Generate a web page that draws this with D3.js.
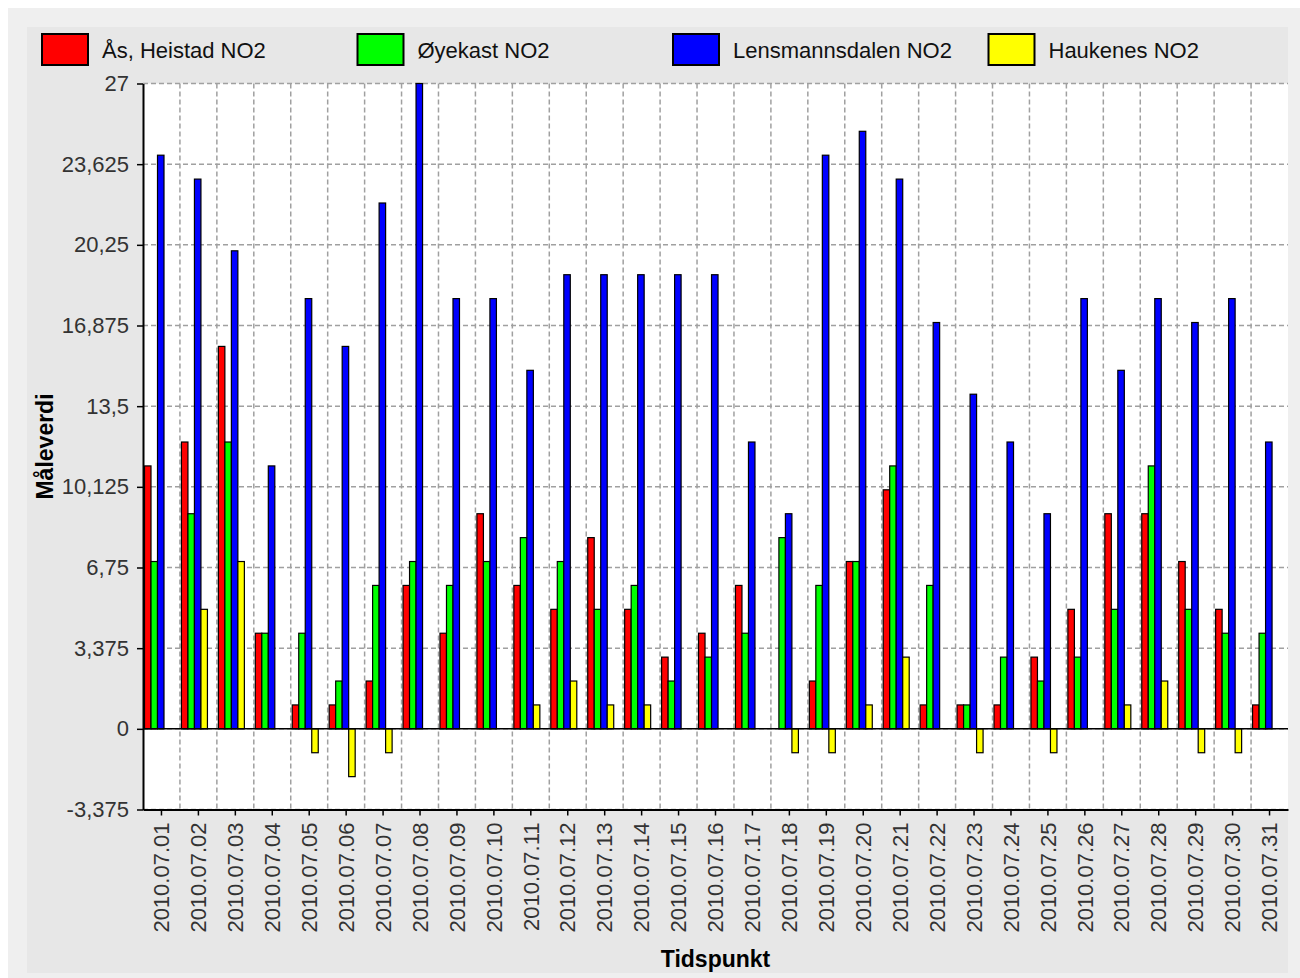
<!DOCTYPE html>
<html>
<head>
<meta charset="utf-8">
<script src="https://cdn.jsdelivr.net/npm/d3@7"></script>
<style>
  body { margin: 0; background: #fff; }
  svg { display: block; font-family: "Liberation Sans", Arial, sans-serif; }
</style>
</head>
<body>
<svg></svg>
<script>
// chart data
let dates = [];
for (let d = 1; d <= 31; d++) dates.push('2010.07.' + String(d).padStart(2, '0'));

let seriesNames = ['Ås, Heistad NO2', 'Øyekast NO2', 'Lensmannsdalen NO2', 'Haukenes NO2'];
let seriesColors = ['#ff0000', '#00ff00', '#0000ff', '#ffff00'];

let heistad   = [11, 12, 16, 4, 1, 1, 2, 6, 4, 9, 6, 5, 8, 5, 3, 4, 6, 0, 2, 7, 10, 1, 1, 1, 3, 5, 9, 9, 7, 5, 1];
let oyekast   = [7, 9, 12, 4, 4, 2, 6, 7, 6, 7, 8, 7, 5, 6, 2, 3, 4, 8, 6, 7, 11, 6, 1, 3, 2, 3, 5, 11, 5, 4, 4];
let lensmann  = [24, 23, 20, 11, 18, 16, 22, 27, 18, 18, 15, 19, 19, 19, 19, 19, 12, 9, 24, 25, 23, 17, 14, 12, 9, 18, 15, 18, 17, 18, 12];
let haukenes  = [0, 5, 7, 0, -1, -2, -1, 0, 0, 0, 1, 2, 1, 1, 0, 0, 0, -1, -1, 1, 3, 0, -1, 0, -1, 0, 1, 2, -1, -1, 0];

let yTicks = [-3.375, 0, 3.375, 6.75, 10.125, 13.5, 16.875, 20.25, 23.625, 27];

let series = [heistad, oyekast, lensmann, haukenes];

// canvas
let width = 1300;
let height = 978;
let plot = { left: 143, right: 1288, top: 83.5, bottom: 809.5 };

let svg = d3.select('svg')
    .attr('width', width)
    .attr('height', height);

// background panels
svg.append('rect').attr('x', 8).attr('y', 8).attr('width', width - 8).attr('height', height - 8).attr('fill', '#efefef');
svg.append('rect').attr('x', 27).attr('y', 27).attr('width', 1261).attr('height', 946).attr('fill', '#e7e7e7');
svg.append('rect')
    .attr('x', plot.left).attr('y', plot.top)
    .attr('width', plot.right - plot.left).attr('height', plot.bottom - plot.top)
    .attr('fill', '#fff');

// scales
let xScale = d3.scaleBand()
    .domain(dates)
    .range([plot.left, plot.right]);

let yScale = d3.scaleLinear()
    .domain([yTicks[0], yTicks[yTicks.length - 1]])
    .range([plot.bottom, plot.top]);

let fmt = v => String(v).replace('.', ',');

// gridlines
let grid = svg.append('g').attr('stroke', '#a0a0a0').attr('stroke-width', 1.5).attr('stroke-dasharray', '5,3');
grid.selectAll('.hg')
    .data(yTicks)
    .enter()
    .append('line')
    .attr('x1', plot.left).attr('x2', plot.right)
    .attr('y1', d => yScale(d)).attr('y2', d => yScale(d));
grid.selectAll('.vg')
    .data(dates.slice(1))
    .enter()
    .append('line')
    .attr('x1', d => xScale(d)).attr('x2', d => xScale(d))
    .attr('y1', plot.top).attr('y2', plot.bottom);

// bars
let barW = 6.5;
let bars = svg.append('g');
series.forEach(function(values, s) {
    bars.selectAll('.s' + s)
        .data(values)
        .enter()
        .append('rect')
        .attr('x', (v, i) => xScale(dates[i]) + 1.5 + s * barW)
        .attr('y', v => yScale(Math.max(0, v)))
        .attr('width', barW)
        .attr('height', v => Math.abs(yScale(v) - yScale(0)))
        .attr('fill', seriesColors[s])
        .attr('stroke', '#000')
        .attr('stroke-width', 1.2);
});

// zero line
svg.append('line')
    .attr('x1', plot.left).attr('x2', plot.right)
    .attr('y1', yScale(0)).attr('y2', yScale(0))
    .attr('stroke', '#000').attr('stroke-width', 1.5);

// y axis
let yAxis = d3.axisLeft(yScale).tickValues(yTicks).tickFormat(fmt).tickSize(6).tickSizeOuter(0).tickPadding(8);
let yG = svg.append('g')
    .attr('transform', `translate(${plot.left}, 0)`)
    .call(yAxis);
yG.select('.domain').attr('stroke-width', 2);
yG.selectAll('line').attr('stroke-width', 1.5);
yG.selectAll('text').attr('font-size', 22).attr('fill', '#333').attr('font-family', 'Liberation Sans, Arial, sans-serif');

// x axis
let xAxis = d3.axisBottom(xScale).tickSize(6).tickSizeOuter(0);
let xG = svg.append('g')
    .attr('transform', `translate(0, ${plot.bottom})`)
    .call(xAxis);
xG.select('.domain').attr('stroke-width', 2);
xG.selectAll('line').attr('stroke-width', 1.5);
xG.selectAll('text')
    .attr('font-size', 22)
    .attr('fill', '#333')
    .attr('font-family', 'Liberation Sans, Arial, sans-serif')
    .attr('transform', 'rotate(-90)')
    .attr('text-anchor', 'end')
    .attr('x', -13)
    .attr('y', 0)
    .attr('dy', '0.35em');

// axis titles
svg.append('text')
    .attr('transform', `translate(53, ${(plot.top + plot.bottom) / 2}) rotate(-90)`)
    .attr('text-anchor', 'middle')
    .attr('font-size', 23)
    .attr('font-weight', 'bold')
    .text('Måleverdi');

svg.append('text')
    .attr('x', (plot.left + plot.right) / 2)
    .attr('y', 967)
    .attr('text-anchor', 'middle')
    .attr('font-size', 23)
    .attr('font-weight', 'bold')
    .text('Tidspunkt');

// legend
let legend = svg.append('g')
    .selectAll('g')
    .data(seriesNames)
    .enter()
    .append('g')
    .attr('transform', (d, i) => `translate(${42 + i * 315.5}, 34)`);
legend.append('rect')
    .attr('width', 46).attr('height', 31)
    .attr('fill', (d, i) => seriesColors[i])
    .attr('stroke', '#000').attr('stroke-width', 2);
legend.append('text')
    .attr('x', 60).attr('y', 16)
    .attr('dy', '0.35em')
    .attr('font-size', 22)
    .attr('fill', '#111')
    .text(d => d);
</script>
</body>
</html>
